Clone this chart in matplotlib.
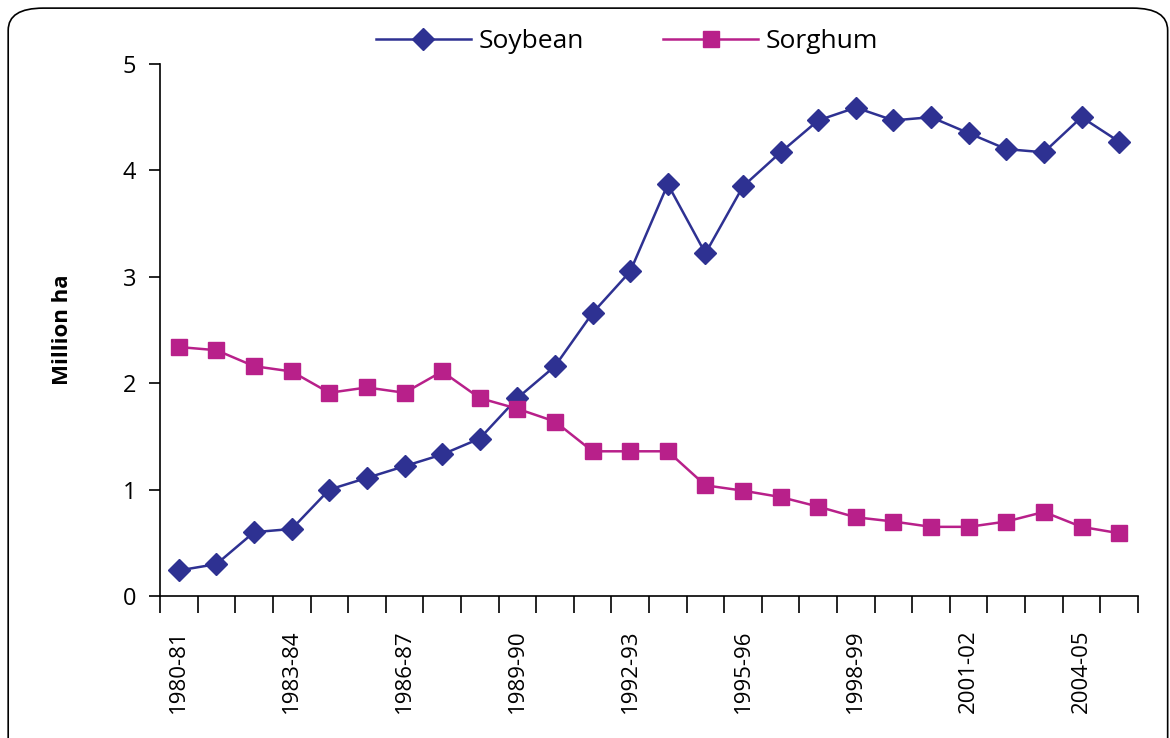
import matplotlib
matplotlib.use("Agg")
import matplotlib.pyplot as plt
from matplotlib.patches import FancyBboxPatch

plt.rcParams['font.family'] = ['Open Sans', 'DejaVu Sans']

seasons = ["%d-%02d" % (y, (y + 1) % 100) for y in range(1980, 2006)]
soybean = [0.24, 0.30, 0.60, 0.63, 1.00, 1.11, 1.22, 1.33, 1.48, 1.86,
           2.16, 2.66, 3.05, 3.87, 3.22, 3.85, 4.17, 4.47, 4.59, 4.47,
           4.50, 4.35, 4.20, 4.17, 4.50, 4.27]
sorghum = [2.34, 2.31, 2.16, 2.11, 1.91, 1.96, 1.91, 2.11, 1.86, 1.76,
           1.64, 1.36, 1.36, 1.36, 1.04, 0.99, 0.93, 0.84, 0.74, 0.70,
           0.65, 0.65, 0.70, 0.79, 0.65, 0.59]

soy_col = "#2e3192"
sor_col = "#b8208a"

fig = plt.figure(figsize=(11.7, 7.38), dpi=100)
ax = fig.add_axes([0.1368, 0.1924, 0.8358, 0.7209])

# rounded frame round the chart
frame = FancyBboxPatch((0.007, -0.05), 0.991, 1.039, transform=fig.transFigure,
                       boxstyle="round,pad=0,rounding_size=0.03",
                       fill=False, edgecolor="black", linewidth=1.2, clip_on=False)
fig.patches.append(frame)

x = range(len(seasons))
ax.plot(x, soybean, color=soy_col, marker="D", markersize=11, linewidth=1.8, label="Soybean")
ax.plot(x, sorghum, color=sor_col, marker="s", markersize=12, linewidth=1.8, label="Sorghum")

ax.set_xlim(-0.5, len(seasons) - 0.5)
ax.set_ylim(0, 5)
ax.set_yticks([0, 1, 2, 3, 4, 5])
ax.tick_params(axis="y", labelsize=17, direction="out", length=8, width=1.2, pad=9)

# ticks at category edges, labels every third season
ax.set_xticks([i - 0.5 for i in range(len(seasons) + 1)])
ax.set_xticklabels([])
ax.set_xticks(list(range(0, len(seasons), 3)), minor=True)
ax.set_xticklabels([seasons[i] for i in range(0, len(seasons), 3)], minor=True,
                   rotation=90, fontsize=16)
ax.tick_params(axis="x", which="major", direction="out", length=12, width=1.2)
ax.tick_params(axis="x", which="minor", length=0, pad=24)

for s in ["top", "right"]:
    ax.spines[s].set_visible(False)
for s in ["left", "bottom"]:
    ax.spines[s].set_linewidth(1.2)

ax.set_ylabel("Million ha", fontsize=16, fontweight="bold", labelpad=36)

fig.legend(loc="upper center", bbox_to_anchor=(0.536, 0.993), ncol=2, frameon=False,
           fontsize=19, handlelength=3.6, handletextpad=0.3, columnspacing=3.0)

fig.savefig("out.png", dpi=100)
